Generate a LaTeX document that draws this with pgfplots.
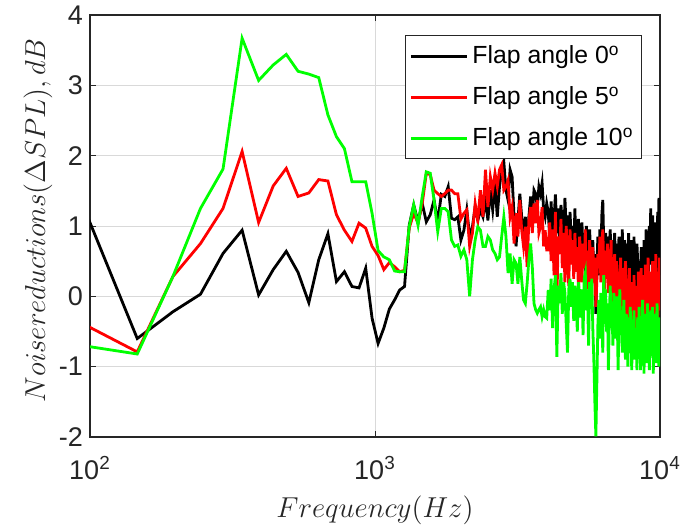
\documentclass[border=0pt]{standalone}
\usepackage{fontspec}
\setmainfont{Liberation Sans}
\usepackage{pgfplots}
\usepackage{pgfplotstable}
\pgfplotsset{compat=1.18}

% narrow-band spectra, bin index k (bin width 48.828125 Hz)
% b: flap 0 deg, r: flap 5 deg, g: flap 10 deg  (noise reduction in dB)
\pgfplotstableread{
k b r g
2 1.15 -0.42 -0.71
3 -0.60 -0.79 -0.82
4 -0.22 0.28 0.28
5 0.03 0.75 1.25
6 0.61 1.25 1.81
7 0.94 2.06 3.67
8 0.02 1.05 3.07
9 0.38 1.57 3.29
10 0.64 1.82 3.44
11 0.34 1.42 3.20
12 -0.09 1.47 3.16
13 0.52 1.66 3.11
14 0.89 1.64 2.58
15 0.21 1.16 2.27
16 0.35 0.94 2.10
17 0.14 0.78 1.63
18 0.12 1.04 1.63
19 0.40 0.97 1.63
20 -0.31 0.71 1.18
21 -0.67 0.58 0.65
22 -0.45 0.38 0.56
23 -0.18 0.48 0.52
24 -0.05 0.42 0.36
25 0.09 0.35 0.35
26 0.14 0.37 0.35
27 1.01 0.97 0.99
28 1.30 1.18 1.30
29 1.06 1.04 1.01
30 1.32 1.32 1.42
31 1.06 1.75 1.77
32 1.16 1.73 1.75
33 1.37 1.51 1.37
34 1.06 1.46 0.92
35 1.45 1.42 1.25
36 1.42 1.46 1.25
37 1.56 1.51 1.20
38 1.11 1.51 0.80
39 1.09 1.46 0.71
40 1.13 1.46 0.73
41 0.80 1.10 0.57
42 0.94 1.18 0.66
43 1.23 1.23 0.52
44 0.85 0.71 0.00
45 0.99 0.90 0.52
46 1.27 1.32 0.80
47 1.08 1.08 0.99
48 1.23 1.51 0.94
49 1.13 1.13 0.71
50 1.37 1.80 0.71
51 1.08 1.27 0.85
52 1.51 1.70 0.80
53 1.23 1.51 0.66
54 1.61 1.75 0.61
55 1.13 1.56 0.52
56 1.56 1.80 0.56
57 1.80 1.87 0.85
58 1.91 1.51 1.13
59 1.51 1.56 0.85
60 1.37 1.65 0.33
61 1.80 1.13 0.61
62 1.70 1.27 0.18
63 1.13 0.75 0.52
64 0.71 1.18 0.47
65 1.08 0.85 0.18
66 1.46 1.37 0.56
67 1.13 0.94 0.23
68 0.85 0.71 -0.05
69 1.13 0.99 -0.10
70 0.80 0.42 0.18
71 1.13 1.08 0.52
72 1.42 1.27 0.75
73 1.13 0.90 0.42
74 1.51 1.32 -0.10
75 1.46 1.04 -0.19
76 1.27 1.37 -0.24
77 1.56 0.90 -0.19
78 1.46 0.99 -0.15
79 1.61 1.27 -0.29
80 1.23 0.71 -0.19
81 1.13 0.94 -0.29
82 1.32 0.66 -0.31
83 1.20 0.66 0.09
84 0.85 1.05 -0.20
85 1.35 0.50 0.25
86 0.75 0.95 -0.45
87 1.10 0.30 0.10
88 1.45 1.20 0.30
89 0.90 -0.10 -0.86
90 1.25 0.85 0.15
91 0.70 0.60 -0.10
92 1.30 1.10 0.33
93 1.05 0.40 -0.25
94 0.60 0.90 0.20
95 1.40 0.20 0.05
96 0.95 1.00 -0.40
97 1.15 0.55 -0.80
98 0.55 0.15 0.10
99 1.20 0.95 0.25
100 0.80 0.45 -0.15
101 1.00 0.80 0.20
102 0.65 0.25 -0.35
103 1.25 0.90 0.15
104 0.50 0.35 -0.05
105 0.95 0.70 -0.50
106 1.10 0.05 0.20
107 0.45 0.85 0.00
108 0.85 0.50 -0.30
109 1.05 0.20 0.10
110 0.60 0.75 -0.55
111 0.90 0.40 0.25
112 0.35 0.95 0.33
113 1.00 0.30 -0.20
114 0.70 0.65 0.10
115 0.40 0.10 -0.70
116 0.95 0.80 0.20
117 0.55 0.45 -0.10
118 0.30 -0.05 0.25
119 0.80 0.70 -0.45
120 0.25 0.35 -0.90
121 0.60 0.55 -1.50
122 -0.25 -0.15 -1.99
123 0.45 0.25 -1.20
124 0.85 0.60 -0.40
125 0.30 0.40 -0.05
126 0.95 0.85 -0.60
127 0.50 0.20 0.05
128 1.15 0.70 -0.30
129 1.37 0.95 -0.80
130 0.75 0.45 0.30
131 0.40 0.10 -0.20
132 0.90 0.65 0.10
133 0.60 0.30 -0.50
134 0.85 0.75 -0.10
135 0.30 0.05 -1.05
136 0.70 0.55 -0.30
137 0.95 0.40 0.15
138 0.45 0.80 -0.45
139 0.80 -0.20 -0.15
140 0.20 0.45 -0.70
141 0.65 0.25 0.05
142 0.90 0.60 -0.35
143 0.35 -0.10 -0.60
144 0.75 0.50 0.00
145 0.55 0.30 -0.25
146 0.15 -0.40 -1.05
147 0.85 0.35 -0.40
148 0.40 0.15 0.10
149 0.70 0.55 -0.55
150 0.25 -0.25 -0.20
151 0.95 0.40 -0.80
152 0.50 0.10 -0.35
153 0.30 -0.30 -0.05
154 0.80 0.30 -0.65
155 0.60 0.50 -0.90
156 0.10 0.05 -0.25
157 0.75 -0.50 -0.60
158 0.45 0.25 -1.00
159 0.90 -0.15 -0.30
160 0.35 0.40 -0.70
161 0.55 -0.60 -0.15
162 0.80 0.20 -0.50
163 0.20 0.00 -1.05
164 0.65 -0.86 -0.40
165 0.40 -0.40 -0.75
166 0.85 0.30 -0.20
167 0.30 -0.20 -0.90
168 0.60 0.15 -0.45
169 0.10 -0.55 -0.60
170 0.75 0.10 -1.05
171 0.50 -0.30 -0.30
172 -0.10 0.35 -0.75
173 0.45 -0.10 -0.15
174 -0.30 -0.70 -0.55
175 0.30 0.20 -1.05
176 0.70 0.40 -0.35
177 0.20 -0.35 -0.80
178 0.55 0.05 -0.05
179 0.05 -0.60 -0.50
180 0.80 0.30 -1.10
181 0.40 -0.15 -0.25
182 0.25 0.45 -0.65
183 0.95 -0.45 -0.40
184 0.50 0.25 -0.95
185 0.15 0.00 -0.10
186 0.85 0.55 -0.60
187 0.35 -0.30 -0.30
188 1.00 0.20 -1.05
189 0.60 -0.70 -0.45
190 1.25 0.35 -0.20
191 0.45 0.10 -0.85
192 0.90 -0.40 -0.50
193 1.15 0.50 -0.15
194 0.40 -0.20 -1.10
195 0.75 0.30 -0.40
196 0.20 -0.55 -0.70
197 1.05 0.15 -0.25
198 0.55 0.60 -0.95
199 0.85 -0.10 -0.55
200 0.30 0.35 -0.10
201 1.20 -0.45 -0.80
202 0.10 0.25 -0.35
203 1.40 -0.20 -1.00
204 0.30 0.55 -0.45
205 1.15 0.20 -0.30
}\spectra

\definecolor{axisgray}{RGB}{38,38,38}
\definecolor{flapgreen}{RGB}{0,255,0}

\begin{document}
\begin{tikzpicture}
\useasboundingbox (-45pt,-46.5pt) rectangle (295.5pt,218.5pt);
\begin{axis}[
  at={(0,0)}, anchor=south west,
  scale only axis, width=285pt, height=211pt,
  xmode=log, log basis x=10,
  xmin=100, xmax=10000, ymin=-2, ymax=4,
  xtick={100,1000,10000},
  xticklabels={10\textsuperscript{2},10\textsuperscript{3},10\textsuperscript{4}},
  ytick={-2,-1,0,1,2,3,4},
  /pgf/number format/assume math mode=true,
  tick label style={font=\fontsize{13.5}{15}\selectfont, text=axisgray},
  xticklabel style={yshift=-6pt},
  tick align=inside,
  major tick length=3pt, minor tick length=3pt,
  every tick/.style={axisgray, line width=0.5pt},
  axis line style={axisgray, line width=0.8pt},
  xmajorgrids, ymajorgrids, xminorgrids,
  major grid style={black!15, line width=0.5pt},
  minor grid style={black!30, dotted, line width=0.5pt},
  xlabel={$Frequency(Hz)$},
  ylabel={$Noisereductions(\Delta SPL), dB$},
  every axis x label/.style={at={(axis description cs:0.5,-0.173)}, anchor=center,
    font=\fontsize{15.6}{18}\selectfont, text=axisgray},
  every axis y label/.style={at={(axis description cs:-0.0912,0.514)}, anchor=center,
    rotate=90, font=\fontsize{15.8}{18}\selectfont, text=axisgray},
  legend style={at={(axis description cs:0.5526,0.952)}, anchor=north west,
    draw=axisgray, line width=0.5pt, fill=white,
    font=\fontsize{12.4}{14}\selectfont, row sep=6pt, inner xsep=2pt, inner ysep=3pt},
  legend cell align=left,
  legend image code/.code={\draw[#1, line width=1.5pt] (0pt,0pt) -- (28pt,0pt);},
]
\addplot[black, line width=1.4pt] table[x expr=\thisrow{k}*48.828125, y=b] {\spectra};
\addplot[red, line width=1.4pt] table[x expr=\thisrow{k}*48.828125, y=r] {\spectra};
\addplot[flapgreen, line width=1.4pt] table[x expr=\thisrow{k}*48.828125, y=g] {\spectra};
\legend{Flap angle 0\textsuperscript{o}, Flap angle 5\textsuperscript{o}, Flap angle 10\textsuperscript{o}}
\end{axis}
\end{tikzpicture}
\end{document}
